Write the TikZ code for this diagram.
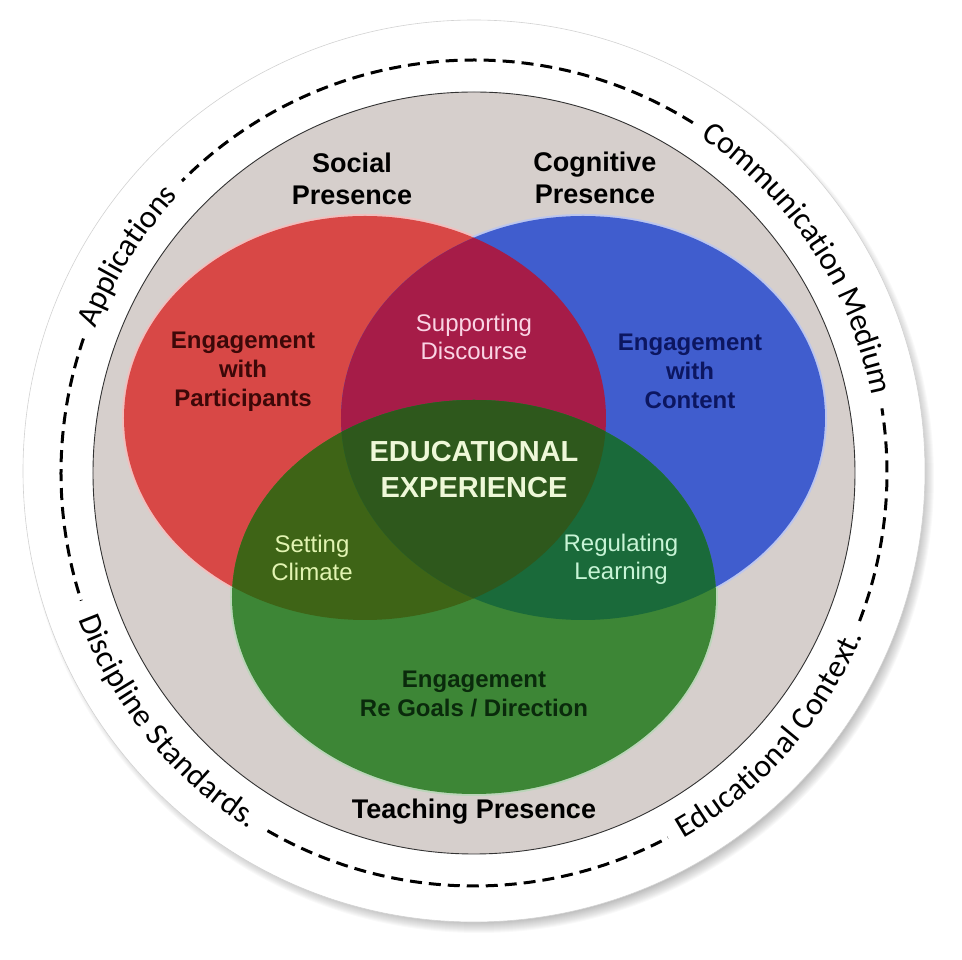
\documentclass[tikz,border=0pt]{standalone}
\usepackage{fontspec}
\setmainfont{Liberation Sans}
\newfontfamily\ringfamily{Carlito}
\usetikzlibrary{positioning,decorations.text}
\definecolor{discgrey}{RGB}{214,207,204}
\definecolor{socred}{RGB}{216,72,70}
\definecolor{cogblue}{RGB}{64,93,206}
\definecolor{teachgreen}{RGB}{61,134,54}
\definecolor{discpurple}{RGB}{166,28,72}
\definecolor{climolive}{RGB}{62,100,22}
\definecolor{reggreen}{RGB}{26,106,58}
\definecolor{expgreen}{RGB}{46,88,28}
\definecolor{partictext}{RGB}{60,8,8}
\definecolor{contenttext}{RGB}{12,22,96}
\definecolor{goaltext}{RGB}{10,42,12}
\newcommand{\ringtxt}{\ringfamily\fontsize{32}{38}\selectfont}

\begin{document}
\begin{tikzpicture}[x=1pt, y=1pt,
    presence/.style={font=\bfseries\fontsize{27}{32}\selectfont, align=center, inner sep=0pt},
    engage/.style={font=\bfseries\fontsize{24}{29}\selectfont, align=center, inner sep=0pt},
    overlap/.style={font=\fontsize{24}{28}\selectfont, align=center, inner sep=0pt},
    core/.style={font=\bfseries\fontsize{29}{36}\selectfont, align=center, inner sep=0pt, text={rgb,255:red,238;green,248;blue,216}},
    ringdash/.style={line width=3pt, dash pattern=on 12pt off 7pt},
    ringtext/.style={decorate, decoration={text along path, text align=center, raise=-8pt, text={|\ringtxt|#1}}}]
    \useasboundingbox (-474,-487) rectangle (488,473);
    % outer white disk with soft shadow
    \foreach \k in {0,...,11}
        \fill[black, opacity=0.025] (5,-5) circle ({444+\k});
    \fill[white, draw=gray!35, line width=0.6pt] (0,2) circle (451);
    % grey disk
    \fill[discgrey, draw=black!80, line width=0.9pt] (0,0) circle (381);
    % pale halos round the circles
    \fill[socred!35!white] (-109,55) ellipse [x radius=243, y radius=204];
    \fill[cogblue!35!white] (109,55) ellipse [x radius=244, y radius=204];
    \fill[teachgreen!35!white] (0,-124) ellipse [x radius=244, y radius=199];
    % the three presences and their overlaps
    \fill[socred] (-109,55) ellipse [x radius=241, y radius=202];
    \fill[cogblue] (109,55) ellipse [x radius=242, y radius=202];
    \begin{scope}
        \clip (-109,55) ellipse [x radius=241, y radius=202];
        \fill[discpurple] (109,55) ellipse [x radius=242, y radius=202];
    \end{scope}
    \fill[teachgreen] (0,-124) ellipse [x radius=242, y radius=197];
    \begin{scope}
        \clip (0,-124) ellipse [x radius=242, y radius=197];
        \fill[climolive] (-109,55) ellipse [x radius=241, y radius=202];
        \fill[reggreen] (109,55) ellipse [x radius=242, y radius=202];
        \clip (-109,55) ellipse [x radius=241, y radius=202];
        \fill[expgreen] (109,55) ellipse [x radius=242, y radius=202];
    \end{scope}
    % dashed ring, broken by its labels
    \draw[ringdash] (58:413) arc[start angle=58, end angle=135, radius=413];
    \draw[ringdash] (161:413) arc[start angle=161, end angle=198, radius=413];
    \draw[ringdash] (240:413) arc[start angle=240, end angle=298, radius=413];
    \draw[ringdash] (339:413) arc[start angle=339, end angle=369, radius=413];
    \path[ringtext=Applications] (178:413) arc[start angle=178, end angle=118, radius=413];
    \path[ringtext=Communication Medium] (68:413) arc[start angle=68, end angle=-1, radius=413];
    \path[ringtext=Educational Context.] (-72:413) arc[start angle=-72, end angle=-11, radius=413];
    \path[ringtext=Discipline Standards.] (189:413) arc[start angle=189, end angle=249, radius=413];
    % labels
    \node[presence] (social) at (-122,294) {Social\\Presence};
    \node[presence] (cognitive) at (121,295) {Cognitive\\Presence};
    \node[presence] (teaching) at (0,-339) {Teaching Presence};
    \node[engage, text=partictext] (partic) at (-231,101) {Engagement\\with\\Participants};
    \node[engage, text=contenttext] (content) at (216,102) {Engagement\\with\\Content};
    \node[engage, text=goaltext] (goals) at (0,-221) {Engagement\\Re Goals / Direction};
    \node[overlap, text={rgb,255:red,250;green,212;blue,228}] (discourse) at (0,136) {Supporting\\Discourse};
    \node[overlap, text={rgb,255:red,226;green,244;blue,178}] (climate) at (-162,-85) {Setting\\Climate};
    \node[overlap, text={rgb,255:red,200;green,244;blue,214}] (regulate) at (147,-86) {Regulating\\Learning};
    \node[core] (edexp) at (0,3) {EDUCATIONAL\\EXPERIENCE};
\end{tikzpicture}
\end{document}
